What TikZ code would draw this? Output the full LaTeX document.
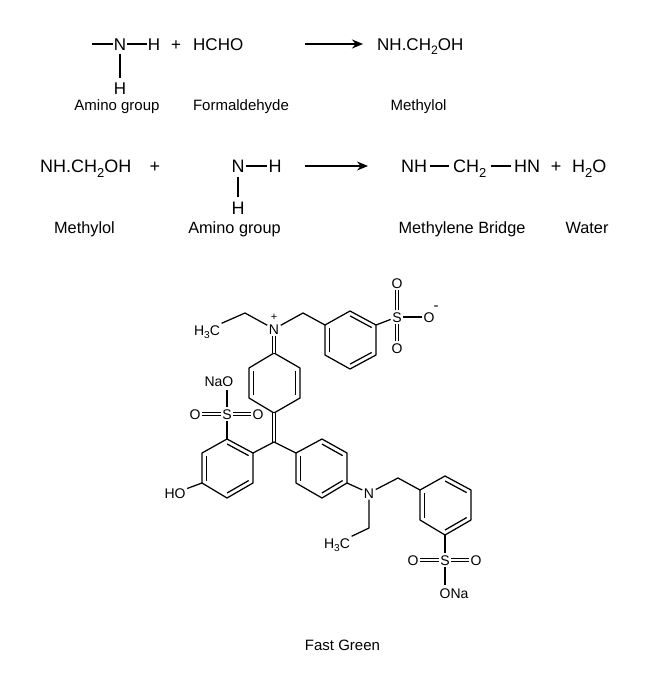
\documentclass[tikz,border=0pt]{standalone}
\usepackage{fontspec}
\setmainfont{Liberation Sans}
\usetikzlibrary{arrows.meta,calc}
\newcommand{\sbs}[1]{\raisebox{-0.28em}{\scalebox{0.72}{#1}}}
\tikzset{
  bigtext/.style={font=\fontsize{17}{20}\selectfont,inner xsep=1pt,inner ysep=4pt,text height=12.2pt,text depth=0pt},
  bigtextb/.style={font=\fontsize{18}{21}\selectfont,inner xsep=1pt,inner ysep=4pt,text height=12.9pt,text depth=0pt},
  captext/.style={font=\fontsize{15}{18}\selectfont,inner sep=0pt,text height=10.8pt,text depth=0pt},
  captextb/.style={font=\fontsize{16.3}{19}\selectfont,inner sep=0pt,text height=11.7pt,text depth=0pt},
  atom/.style={font=\fontsize{14}{16}\selectfont,inner xsep=1.5pt,inner ysep=1.5pt,text height=10pt,text depth=0pt},
  mini/.style={font=\fontsize{11}{12}\selectfont,inner sep=0pt},
  bigbond/.style={line width=1.7pt},
  bond/.style={line width=1.25pt,line join=round},
  dbl/.style={line width=1.05pt,double,double distance=2.1pt},
  rxn/.style={line width=1.6pt,-{Stealth[length=11pt,width=9pt]}},
}
\newcommand{\innerbond}[3]{\draw[bond] ($(#1)!0.17!(#3)$) -- ($(#2)!0.17!(#3)$);}
\begin{document}
\begin{tikzpicture}[x=1pt,y=-1pt]
\useasboundingbox (0,0) rectangle (661,676);
% Reaction 1
\coordinate (ra) at (92,44);
\node[bigtext] (n1) at (120,44) {N};
\node[bigtext] (h1) at (154,44) {H};
\node[bigtext] (h2) at (120,88) {H};
\node[bigtext] at (176,44) (p1) {+};
\node[bigtext,anchor=west,inner xsep=0pt] (hcho) at (193,44) {HCHO};
\draw[bigbond] (ra) -- (n1);
\draw[bigbond] (n1) -- (h1);
\draw[bigbond] (n1) -- (h2);
\coordinate (a1s) at (305,44); \coordinate (a1e) at (363,44);
\draw[rxn] (a1s) -- (a1e);
\node[bigtext,anchor=west,inner xsep=0pt] (m1) at (377,44) {NH.CH\sbs{2}OH};
\node[captext] (c1) at (117,105) {Amino group};
\node[captext] (c2) at (241,105) {Formaldehyde};
\node[captext] (c3) at (418.5,105) {Methylol};
% Reaction 2
\node[bigtextb,anchor=west,inner xsep=0pt] (m2) at (40,166) {NH.CH\sbs{2}OH};
\node[bigtextb] (p2) at (155,166) {+};
\node[bigtextb] (n2) at (238,166) {N};
\node[bigtextb] (h3) at (275,166) {H};
\node[bigtextb] (h4) at (238,208) {H};
\draw[bigbond] (n2) -- (h3);
\draw[bigbond] (n2) -- (h4);
\coordinate (a2s) at (305,166); \coordinate (a2e) at (368,166);
\draw[rxn] (a2s) -- (a2e);
\node[bigtextb,inner xsep=3pt] (nh) at (414,166) {NH};
\node[bigtextb,inner xsep=4pt,anchor=west] (ch2) at (449,166) {CH\sbs{2}};
\node[bigtextb,inner xsep=3pt] (hn) at (527,166) {HN};
\draw[bigbond] (nh) -- (ch2);
\draw[bigbond] (ch2) -- (hn);
\node[bigtextb] (p3) at (556,166) {+};
\node[bigtextb,anchor=west,inner xsep=0pt] (h2o) at (572,166) {H\sbs{2}O};
\node[captextb] (c4) at (84.5,228) {Methylol};
\node[captextb] (c5) at (234.5,228) {Amino group};
\node[captextb] (c6) at (462,228) {Methylene Bridge};
\node[captextb] (c7) at (587,228) {Water};
% Fast Green: ring A (top right)
\coordinate (a1) at (325,325); \coordinate (a2) at (350,311); \coordinate (a3) at (376,325);
\coordinate (a4) at (376,355); \coordinate (a5) at (350,369); \coordinate (a6) at (325,355);
\coordinate (ac) at (350.5,340);
\draw[bond] (a1)--(a2)--(a3)--(a4)--(a5)--(a6)--cycle;
\innerbond{a6}{a1}{ac}\innerbond{a2}{a3}{ac}\innerbond{a4}{a5}{ac}
% ring B (quinoid)
\coordinate (b1) at (274,353); \coordinate (b2) at (300,368); \coordinate (b3) at (300,398);
\coordinate (b4) at (274,413); \coordinate (b5) at (249,398); \coordinate (b6) at (249,368);
\coordinate (bc) at (274.5,383);
\draw[bond] (b1)--(b2)--(b3)--(b4)--(b5)--(b6)--cycle;
\innerbond{b2}{b3}{bc}\innerbond{b5}{b6}{bc}
% ring C (left)
\coordinate (d1) at (227,439); \coordinate (d2) at (253,453); \coordinate (d3) at (253,483);
\coordinate (d4) at (227,498); \coordinate (d5) at (202,483); \coordinate (d6) at (202,453);
\coordinate (dc) at (227.5,468.5);
\draw[bond] (d1)--(d2)--(d3)--(d4)--(d5)--(d6)--cycle;
\innerbond{d1}{d2}{dc}\innerbond{d3}{d4}{dc}\innerbond{d5}{d6}{dc}
% ring D (middle right)
\coordinate (e1) at (296,453); \coordinate (e2) at (322,439); \coordinate (e3) at (347,453);
\coordinate (e4) at (347,483); \coordinate (e5) at (322,498); \coordinate (e6) at (296,483);
\coordinate (ec) at (321.5,468.5);
\draw[bond] (e1)--(e2)--(e3)--(e4)--(e5)--(e6)--cycle;
\innerbond{e2}{e3}{ec}\innerbond{e4}{e5}{ec}\innerbond{e6}{e1}{ec}
% ring E (lower right)
\coordinate (f1) at (420,490); \coordinate (f2) at (445,476); \coordinate (f3) at (471,490);
\coordinate (f4) at (471,520); \coordinate (f5) at (445,535); \coordinate (f6) at (420,520);
\coordinate (fc) at (445.5,505.5);
\draw[bond] (f1)--(f2)--(f3)--(f4)--(f5)--(f6)--cycle;
\innerbond{f2}{f3}{fc}\innerbond{f4}{f5}{fc}\innerbond{f6}{f1}{fc}
% atoms
\node[atom] (N1) at (274,329) {N};
\node[mini] (plus) at (274,317) {+};
\node[atom] (CH3a) at (207,330) {H\sbs{3}C};
\coordinate (k1) at (245,313);
\coordinate (k2) at (303,313);
\node[atom] (S1) at (397,317) {S};
\node[atom] (O1) at (397,283) {O};
\node[atom] (O2) at (397,348) {O};
\node[atom] (O3) at (429,317) {O};
\node[mini,font=\fontsize{15}{16}\selectfont] (minus) at (436,308) {-};
\draw[bond] (CH3a.north east) -- (k1) -- (N1);
\draw[bond] (N1) -- (k2) -- (a1);
\draw[bond] (a3) -- (S1);
\draw[dbl] (S1) -- (O1);
\draw[dbl] (S1) -- (O2);
\draw[bond] (S1) -- (O3);
\draw[dbl] (N1) -- (b1);
\coordinate (cc) at (274,442);
\draw[dbl] (b4) -- (cc);
\draw[bond] (d2) -- (cc) -- (e1);
\node[atom] (S2) at (227,414) {S};
\node[atom] (O4) at (195,414) {O};
\node[atom] (O5) at (258,414) {O};
\node[atom,anchor=east,inner xsep=0pt] (NaO) at (233.5,381) {NaO};
\draw[bond] (d1) -- (S2);
\draw[dbl] (S2) -- (O4);
\draw[dbl] (S2) -- (O5);
\draw[bond] (S2) -- ($(NaO.east)+(-6.5,9)$);
\node[atom] (HO) at (175,493) {HO};
\draw[bond] (d5) -- (HO);
\node[atom] (N2) at (369,493) {N};
\coordinate (k3) at (398,478);
\coordinate (k4) at (369,528);
\node[atom] (CH3b) at (337,543) {H\sbs{3}C};
\draw[bond] (e4) -- (N2);
\draw[bond] (N2) -- (k3) -- (f1);
\draw[bond] (N2) -- (k4) -- (CH3b.north east);
\node[atom] (S3) at (445,560) {S};
\node[atom] (O6) at (413,560) {O};
\node[atom] (O7) at (476,560) {O};
\node[atom,anchor=west,inner xsep=0pt] (ONa) at (439.5,593) {ONa};
\draw[bond] (f5) -- (S3);
\draw[dbl] (S3) -- (O6);
\draw[dbl] (S3) -- (O7);
\draw[bond] (S3) -- ($(ONa.west)+(5.5,-8)$);
\node[captext] (title) at (342.5,645) {Fast Green};
\end{tikzpicture}
\end{document}
